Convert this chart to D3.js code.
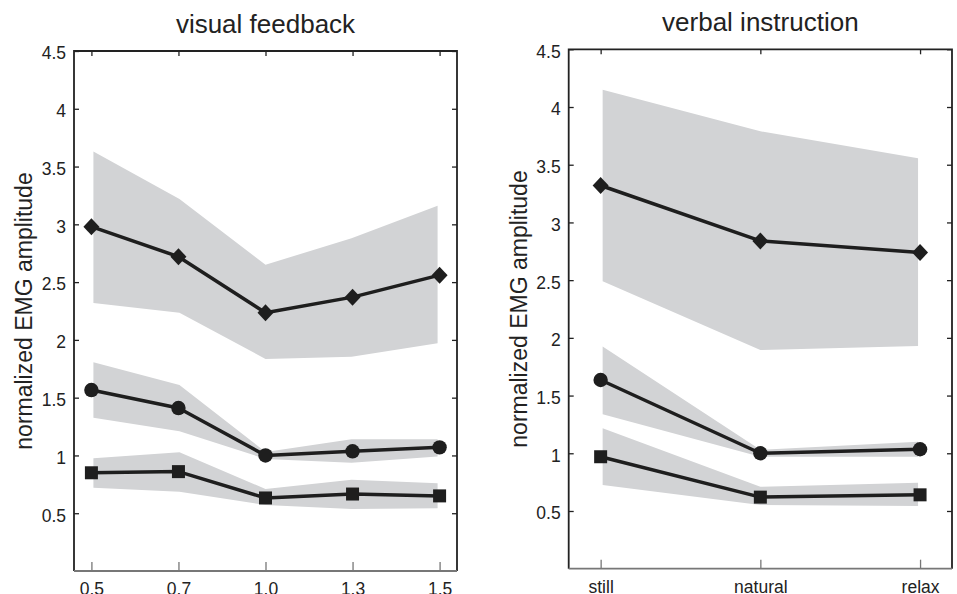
<!DOCTYPE html>
<html>
<head>
<meta charset="utf-8">
<script src="https://cdn.jsdelivr.net/npm/d3@7"></script>
<style>
  body { margin: 0; background: #fff; }
  svg { display: block; font-family: 'Liberation Sans', Arial, Helvetica, sans-serif; }
  .tick-label { fill: #222; font-size: 17.5px; }
  .title { fill: #222; font-size: 26px; }
  .ylabel { fill: #222; font-size: 23px; }
</style>
</head>
<body>
<svg id="chart" width="957" height="594"></svg>
<script>
// visual feedback panel (gain levels)
const vfLevels = ['0.5', '0.7', '1.0', '1.3', '1.5']
const vfDiamond = [2.98, 2.72, 2.235, 2.37, 2.56]
const vfDiamondHi = [3.63, 3.22, 2.65, 2.88, 3.16]
const vfDiamondLo = [2.32, 2.235, 1.835, 1.855, 1.97]
const vfCircle = [1.566, 1.41, 1.0, 1.036, 1.07]
const vfCircleHi = [1.806, 1.61, 1.03, 1.14, 1.14]
const vfCircleLo = [1.327, 1.21, 0.97, 0.937, 0.99]
const vfSquare = [0.85, 0.86, 0.632, 0.666, 0.65]
const vfSquareHi = [0.975, 1.027, 0.71, 0.79, 0.76]
const vfSquareLo = [0.72, 0.686, 0.571, 0.537, 0.543]

// verbal instruction panel
const viLevels = ['still', 'natural', 'relax']
const viDiamond = [3.32, 2.84, 2.74]
const viDiamondHi = [4.15, 3.79, 3.556]
const viDiamondLo = [2.49, 1.895, 1.93]
const viCircle = [1.635, 1.0, 1.035]
const viCircleHi = [1.925, 1.03, 1.10]
const viCircleLo = [1.338, 0.97, 0.97]
const viSquare = [0.97, 0.62, 0.64]
const viSquareHi = [1.216, 0.71, 0.745]
const viSquareLo = [0.725, 0.552, 0.543]

const yTickValues = [0.5, 1, 1.5, 2, 2.5, 3, 3.5, 4, 4.5]

const svg = d3.select('#chart')

const drawPanel = (cfg) => {
  const { left, right, top, bottom, title, levels, series } = cfg
  const g = svg.append('g')

  const n = levels.length
  const x = d3.scaleLinear()
    .domain([-0.2, n - 1 + 0.2])
    .range([left, right])
  // shaded bands stop a couple of pixels short of the end points
  const xBand = d3.scaleLinear()
    .domain([0, n - 1])
    .range([x(0) + 2, x(n - 1) - 2])
  const y = d3.scaleLinear()
    .domain([0, 4.5])
    .range([bottom, top])

  // bands
  const area = d3.area()
    .x((d, i) => xBand(i))
    .y0(d => y(d[0]))
    .y1(d => y(d[1]))
  series.forEach(s => {
    g.append('path')
      .datum(s.lo.map((v, i) => [v, s.hi[i]]))
      .attr('d', area)
      .attr('fill', '#d2d3d5')
  })

  // axes
  const tickPadding = 8
  const yAxisLeft = d3.axisLeft(y)
    .tickValues(yTickValues)
    .tickFormat(d3.format('~g'))
    .tickSizeInner(-5)
    .tickSizeOuter(0)
    .tickPadding(tickPadding)
  const yAxisRight = d3.axisRight(y)
    .tickValues(yTickValues)
    .tickFormat('')
    .tickSizeInner(-5)
    .tickSizeOuter(0)
  const xAxisTop = d3.axisTop(x)
    .tickValues(d3.range(n))
    .tickFormat('')
    .tickSizeInner(-5)
    .tickSizeOuter(0)
  const xAxisBottom = d3.axisBottom(x)
    .tickValues(d3.range(n))
    .tickFormat(i => levels[i])
    .tickSizeInner(-9)
    .tickSizeOuter(0)
    .tickPadding(0)

  const yLeftG = g.append('g')
    .attr('transform', `translate(${ left }, 0)`)
    .call(yAxisLeft)
  const yRightG = g.append('g')
    .attr('transform', `translate(${ right }, 0)`)
    .call(yAxisRight)
  const xTopG = g.append('g')
    .attr('transform', `translate(0, ${ top })`)
    .call(xAxisTop)
  const xBottomG = g.append('g')
    .attr('transform', `translate(0, ${ bottom })`)
    .call(xAxisBottom)

  ;[yLeftG, yRightG, xTopG].forEach(a => {
    a.select('.domain').remove()
    a.selectAll('.tick line').attr('stroke', '#222').attr('stroke-width', 1.3)
  })
  xBottomG.select('.domain').remove()
  xBottomG.selectAll('.tick line').attr('stroke', '#777').attr('stroke-width', 1.3)

  yLeftG.selectAll('.tick text')
    .attr('class', 'tick-label')
    .attr('font-size', null)
    .attr('font-family', null)
    .attr('dy', '0.45em')
  xBottomG.selectAll('.tick text')
    .attr('class', 'tick-label')
    .attr('font-size', null)
    .attr('font-family', null)
    .attr('y', 24)
    .attr('dy', 0)

  // frame: dark left/top/right, grey bottom
  g.append('path')
    .attr('d', `M${ left },${ bottom }V${ top }H${ right }V${ bottom }`)
    .attr('fill', 'none')
    .attr('stroke', '#222')
    .attr('stroke-width', 1.8)
  g.append('line')
    .attr('x1', left).attr('x2', right)
    .attr('y1', bottom).attr('y2', bottom)
    .attr('stroke', '#777')
    .attr('stroke-width', 1.8)

  // lines and markers
  const line = d3.line()
    .x((d, i) => x(i))
    .y(d => y(d))
  series.forEach(s => {
    g.append('path')
      .datum(s.mean)
      .attr('d', line)
      .attr('fill', 'none')
      .attr('stroke', '#1e1e1e')
      .attr('stroke-width', 3.5)
      .attr('stroke-linejoin', 'round')

    const pts = g.append('g').selectAll('path')
      .data(s.mean)
      .enter()
      .append('path')
      .attr('transform', (d, i) => `translate(${ x(i) }, ${ y(d) })`)
      .attr('fill', '#1e1e1e')
    if (s.marker === 'diamond') {
      pts.attr('d', 'M0,-8.5L8,0L0,8.5L-8,0Z')
    } else if (s.marker === 'circle') {
      pts.attr('d', d3.symbol(d3.symbolCircle, Math.PI * 7.2 * 7.2))
    } else {
      pts.attr('d', 'M-6.5,-6.5H6.5V6.5H-6.5Z')
    }
  })

  // titles
  svg.append('text')
    .attr('class', 'title')
    .attr('x', (left + right) / 2)
    .attr('y', top - 18)
    .attr('text-anchor', 'middle')
    .text(title)
  svg.append('text')
    .attr('class', 'ylabel')
    .attr('transform', `translate(${ left - 42 }, ${ (top + bottom) / 2 }) rotate(-90)`)
    .attr('text-anchor', 'middle')
    .text('normalized EMG amplitude')
}

drawPanel({
  left: 74, right: 457, top: 51, bottom: 571,
  title: 'visual feedback',
  levels: vfLevels,
  series: [
    { mean: vfDiamond, hi: vfDiamondHi, lo: vfDiamondLo, marker: 'diamond' },
    { mean: vfCircle, hi: vfCircleHi, lo: vfCircleLo, marker: 'circle' },
    { mean: vfSquare, hi: vfSquareHi, lo: vfSquareLo, marker: 'square' }
  ]
})

drawPanel({
  left: 568.7, right: 952, top: 49.3, bottom: 568.7,
  title: 'verbal instruction',
  levels: viLevels,
  series: [
    { mean: viDiamond, hi: viDiamondHi, lo: viDiamondLo, marker: 'diamond' },
    { mean: viCircle, hi: viCircleHi, lo: viCircleLo, marker: 'circle' },
    { mean: viSquare, hi: viSquareHi, lo: viSquareLo, marker: 'square' }
  ]
})
</script>
</body>
</html>
